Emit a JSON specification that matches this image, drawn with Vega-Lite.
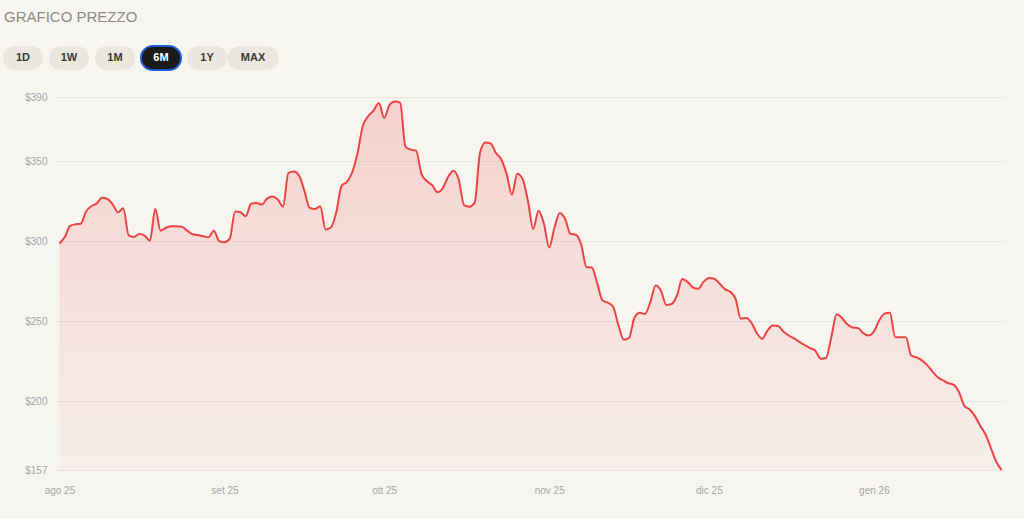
{
  "$schema": "https://vega.github.io/schema/vega-lite/v6.json",
  "background": "#f7f5f0",
  "padding": {"left": 0, "top": 10, "right": 19, "bottom": 24},
  "title": {
    "text": "GRAFICO PREZZO",
    "anchor": "start",
    "dx": 4,
    "font": "Liberation Sans",
    "fontSize": 15,
    "fontWeight": "normal",
    "color": "#8e8a84",
    "offset": 20
  },
  "config": {
    "view": {"stroke": null},
    "axis": {"labelFont": "Liberation Sans", "labelFontSize": 10, "labelColor": "#a4a6ad"}
  },
  "spacing": 21,
  "vconcat": [
    {
      "width": 276,
      "height": 24,
      "data": {"values": [
        {"range": "1D"}, {"range": "1W"}, {"range": "1M"},
        {"range": "6M"}, {"range": "1Y"}, {"range": "MAX"}
      ]},
      "encoding": {
        "x": {"field": "range", "type": "nominal", "sort": null, "axis": null,
              "scale": {"type": "band", "paddingInner": 0, "paddingOuter": 0, "range": [-55, 221]}}
      },
      "layer": [
        {
          "mark": {"type": "bar", "orient": "vertical", "cornerRadius": 12, "strokeWidth": 2},
          "encoding": {
            "size": {"condition": {"test": "datum.range === 'MAX'", "value": 51}, "value": 40},
            "color": {"condition": {"test": "datum.range === '6M'", "value": "#1b1a17"}, "value": "#ebe7de"},
            "stroke": {"condition": {"test": "datum.range === '6M'", "value": "#1f5bd6"}, "value": null}
          }
        },
        {
          "mark": {"type": "text", "font": "Liberation Sans", "fontSize": 11, "fontWeight": "bold"},
          "encoding": {
            "text": {"field": "range"},
            "color": {"condition": {"test": "datum.range === '6M'", "value": "#ffffff"}, "value": "#3b3834"}
          }
        }
      ]
    },
    {
      "width": 950,
      "height": 373,
      "data": {"values": [
        {"date": "2025-08-01", "price": 298.5}, {"date": "2025-08-02", "price": 302.5},
        {"date": "2025-08-03", "price": 309.5}, {"date": "2025-08-04", "price": 310.5},
        {"date": "2025-08-05", "price": 310.8}, {"date": "2025-08-06", "price": 318.5},
        {"date": "2025-08-07", "price": 321.8}, {"date": "2025-08-08", "price": 323.5},
        {"date": "2025-08-09", "price": 327}, {"date": "2025-08-10", "price": 326.3},
        {"date": "2025-08-11", "price": 323}, {"date": "2025-08-12", "price": 318},
        {"date": "2025-08-13", "price": 320.5}, {"date": "2025-08-14", "price": 303.5},
        {"date": "2025-08-15", "price": 302.5}, {"date": "2025-08-16", "price": 304.4},
        {"date": "2025-08-17", "price": 303.4}, {"date": "2025-08-18", "price": 300.2},
        {"date": "2025-08-19", "price": 320}, {"date": "2025-08-20", "price": 306.5},
        {"date": "2025-08-21", "price": 308.3}, {"date": "2025-08-22", "price": 309.2},
        {"date": "2025-08-23", "price": 309.3}, {"date": "2025-08-24", "price": 309},
        {"date": "2025-08-25", "price": 306.5}, {"date": "2025-08-26", "price": 304.3},
        {"date": "2025-08-27", "price": 303.8}, {"date": "2025-08-28", "price": 303},
        {"date": "2025-08-29", "price": 302.4}, {"date": "2025-08-30", "price": 306.5},
        {"date": "2025-08-31", "price": 300},
        {"date": "2025-09-01", "price": 299.3}, {"date": "2025-09-02", "price": 301.5},
        {"date": "2025-09-03", "price": 318.4}, {"date": "2025-09-04", "price": 318},
        {"date": "2025-09-05", "price": 315.5}, {"date": "2025-09-06", "price": 323.3},
        {"date": "2025-09-07", "price": 323.8}, {"date": "2025-09-08", "price": 322.8},
        {"date": "2025-09-09", "price": 326.5}, {"date": "2025-09-10", "price": 327.8},
        {"date": "2025-09-11", "price": 326}, {"date": "2025-09-12", "price": 321.5},
        {"date": "2025-09-13", "price": 342.5}, {"date": "2025-09-14", "price": 343.4},
        {"date": "2025-09-15", "price": 341}, {"date": "2025-09-16", "price": 331.5},
        {"date": "2025-09-17", "price": 320.7}, {"date": "2025-09-18", "price": 320},
        {"date": "2025-09-19", "price": 321.8}, {"date": "2025-09-20", "price": 307.3},
        {"date": "2025-09-21", "price": 308.5}, {"date": "2025-09-22", "price": 318},
        {"date": "2025-09-23", "price": 334.5}, {"date": "2025-09-24", "price": 337},
        {"date": "2025-09-25", "price": 343}, {"date": "2025-09-26", "price": 355},
        {"date": "2025-09-27", "price": 372}, {"date": "2025-09-28", "price": 378},
        {"date": "2025-09-29", "price": 381.5}, {"date": "2025-09-30", "price": 386.2},
        {"date": "2025-10-01", "price": 377}, {"date": "2025-10-02", "price": 385},
        {"date": "2025-10-03", "price": 387.2}, {"date": "2025-10-04", "price": 386.5},
        {"date": "2025-10-05", "price": 359}, {"date": "2025-10-06", "price": 357.1},
        {"date": "2025-10-07", "price": 356.5}, {"date": "2025-10-08", "price": 342},
        {"date": "2025-10-09", "price": 337.5}, {"date": "2025-10-10", "price": 335},
        {"date": "2025-10-11", "price": 330.5}, {"date": "2025-10-12", "price": 333},
        {"date": "2025-10-13", "price": 340}, {"date": "2025-10-14", "price": 344},
        {"date": "2025-10-15", "price": 338.5}, {"date": "2025-10-16", "price": 322.5},
        {"date": "2025-10-17", "price": 321.5}, {"date": "2025-10-18", "price": 324},
        {"date": "2025-10-19", "price": 355}, {"date": "2025-10-20", "price": 361.5},
        {"date": "2025-10-21", "price": 361}, {"date": "2025-10-22", "price": 355},
        {"date": "2025-10-23", "price": 351}, {"date": "2025-10-24", "price": 342},
        {"date": "2025-10-25", "price": 329}, {"date": "2025-10-26", "price": 342},
        {"date": "2025-10-27", "price": 338.8}, {"date": "2025-10-28", "price": 325.3},
        {"date": "2025-10-29", "price": 307.6}, {"date": "2025-10-30", "price": 319},
        {"date": "2025-10-31", "price": 311},
        {"date": "2025-11-01", "price": 296}, {"date": "2025-11-02", "price": 308.5},
        {"date": "2025-11-03", "price": 317.6}, {"date": "2025-11-04", "price": 313.8},
        {"date": "2025-11-05", "price": 304.5}, {"date": "2025-11-06", "price": 304},
        {"date": "2025-11-07", "price": 298}, {"date": "2025-11-08", "price": 283.8},
        {"date": "2025-11-09", "price": 283.5}, {"date": "2025-11-10", "price": 274},
        {"date": "2025-11-11", "price": 263}, {"date": "2025-11-12", "price": 261.5},
        {"date": "2025-11-13", "price": 259}, {"date": "2025-11-14", "price": 247.5},
        {"date": "2025-11-15", "price": 238.4}, {"date": "2025-11-16", "price": 239.5},
        {"date": "2025-11-17", "price": 252}, {"date": "2025-11-18", "price": 255.2},
        {"date": "2025-11-19", "price": 254.5}, {"date": "2025-11-20", "price": 262},
        {"date": "2025-11-21", "price": 272.2}, {"date": "2025-11-22", "price": 269},
        {"date": "2025-11-23", "price": 260.1}, {"date": "2025-11-24", "price": 260.7},
        {"date": "2025-11-25", "price": 266}, {"date": "2025-11-26", "price": 276.3},
        {"date": "2025-11-27", "price": 274.5}, {"date": "2025-11-28", "price": 271},
        {"date": "2025-11-29", "price": 270.2}, {"date": "2025-11-30", "price": 274.5},
        {"date": "2025-12-01", "price": 277}, {"date": "2025-12-02", "price": 276.5},
        {"date": "2025-12-03", "price": 273.5}, {"date": "2025-12-04", "price": 270},
        {"date": "2025-12-05", "price": 268.3}, {"date": "2025-12-06", "price": 264},
        {"date": "2025-12-07", "price": 251.5}, {"date": "2025-12-08", "price": 252},
        {"date": "2025-12-09", "price": 249}, {"date": "2025-12-10", "price": 242.5},
        {"date": "2025-12-11", "price": 239}, {"date": "2025-12-12", "price": 244},
        {"date": "2025-12-13", "price": 247.3}, {"date": "2025-12-14", "price": 247},
        {"date": "2025-12-15", "price": 243.5}, {"date": "2025-12-16", "price": 241},
        {"date": "2025-12-17", "price": 239.2}, {"date": "2025-12-18", "price": 237},
        {"date": "2025-12-19", "price": 235}, {"date": "2025-12-20", "price": 233.2},
        {"date": "2025-12-21", "price": 231.5}, {"date": "2025-12-22", "price": 226.5},
        {"date": "2025-12-23", "price": 227}, {"date": "2025-12-24", "price": 240},
        {"date": "2025-12-25", "price": 254.3}, {"date": "2025-12-26", "price": 252},
        {"date": "2025-12-27", "price": 248}, {"date": "2025-12-28", "price": 246},
        {"date": "2025-12-29", "price": 245.7}, {"date": "2025-12-30", "price": 242.5},
        {"date": "2025-12-31", "price": 241},
        {"date": "2026-01-01", "price": 243.5}, {"date": "2026-01-02", "price": 250.5},
        {"date": "2026-01-03", "price": 254.7}, {"date": "2026-01-04", "price": 255.3},
        {"date": "2026-01-05", "price": 240}, {"date": "2026-01-06", "price": 240},
        {"date": "2026-01-07", "price": 240}, {"date": "2026-01-08", "price": 228.5},
        {"date": "2026-01-09", "price": 227.3}, {"date": "2026-01-10", "price": 225.5},
        {"date": "2026-01-11", "price": 222.5}, {"date": "2026-01-12", "price": 218.5},
        {"date": "2026-01-13", "price": 215}, {"date": "2026-01-14", "price": 213},
        {"date": "2026-01-15", "price": 211.2}, {"date": "2026-01-16", "price": 210.2},
        {"date": "2026-01-17", "price": 205.6}, {"date": "2026-01-18", "price": 197},
        {"date": "2026-01-19", "price": 194.8}, {"date": "2026-01-20", "price": 190.5},
        {"date": "2026-01-21", "price": 184.5}, {"date": "2026-01-22", "price": 179},
        {"date": "2026-01-23", "price": 170.5}, {"date": "2026-01-24", "price": 162},
        {"date": "2026-01-25", "price": 157}
      ]},
      "encoding": {
        "x": {
          "field": "date",
          "type": "temporal",
          "title": null,
          "scale": {
            "type": "utc",
            "domain": [
              {"year": 2025, "month": 7, "date": 31, "hours": 4, "utc": true},
              {"year": 2026, "month": 1, "date": 25, "hours": 15, "utc": true}
            ]
          },
          "axis": {
            "values": [
              {"year": 2025, "month": 8, "date": 1, "utc": true},
              {"year": 2025, "month": 9, "date": 1, "utc": true},
              {"year": 2025, "month": 10, "date": 1, "utc": true},
              {"year": 2025, "month": 11, "date": 1, "utc": true},
              {"year": 2025, "month": 12, "date": 1, "utc": true},
              {"year": 2026, "month": 1, "date": 1, "utc": true}
            ],
            "labelExpr": "['gen','feb','mar','apr','mag','giu','lug','ago','set','ott','nov','dic'][utcmonth(datum.value)] + ' ' + utcFormat(datum.value, '%y')",
            "grid": false,
            "domain": false,
            "ticks": false,
            "labelPadding": 15
          }
        },
        "y": {
          "field": "price",
          "type": "quantitative",
          "title": null,
          "scale": {"domain": [157, 390], "zero": false, "nice": false},
          "axis": {
            "values": [157, 200, 250, 300, 350, 390],
            "labelExpr": "'$' + datum.value",
            "grid": true,
            "gridColor": "#ebe7e0",
            "domain": false,
            "ticks": false,
            "labelPadding": 8,
            "minExtent": 55
          }
        }
      },
      "layer": [
        {
          "mark": {
            "type": "area",
            "interpolate": "monotone",
            "color": {
              "gradient": "linear",
              "x1": 0, "y1": 0, "x2": 0, "y2": 1,
              "stops": [
                {"offset": 0, "color": "rgba(239, 68, 68, 0.2)"},
                {"offset": 1, "color": "rgba(239, 68, 68, 0.04)"}
              ]
            }
          },
          "encoding": {"y2": {"datum": 157}}
        },
        {
          "mark": {"type": "line", "interpolate": "monotone", "color": "#ee4343", "strokeWidth": 2}
        }
      ]
    }
  ]
}
